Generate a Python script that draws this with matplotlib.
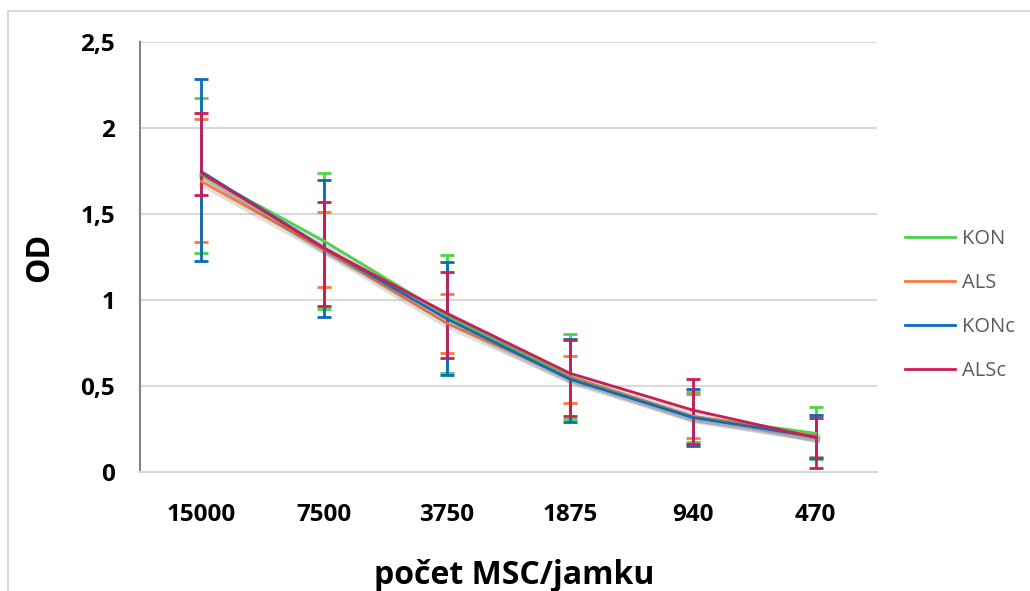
import matplotlib
matplotlib.use("Agg")
import matplotlib.pyplot as plt
import matplotlib.patheffects as pe
from matplotlib.lines import Line2D
import numpy as np

categories = ["15000", "7500", "3750", "1875", "940", "470"]
series_names = ["KON", "ALS", "KONc", "ALSc"]
colors = ["#4fd34a", "#f97a3a", "#0a6cc0", "#cc1d57"]

kon = [1.73, 1.342, 0.91, 0.555, 0.323, 0.225]
als = [1.69, 1.293, 0.864, 0.549, 0.323, 0.21]
konc = [1.746, 1.303, 0.89, 0.54, 0.317, 0.205]
alsc = [1.74, 1.300, 0.922, 0.574, 0.36, 0.20]

kon_hi = [2.177, 1.738, 1.26, 0.80, 0.466, 0.379]
kon_lo = [1.272, 0.95, 0.574, 0.307, 0.176, 0.075]
als_hi = [2.052, 1.512, 1.034, 0.675, 0.451, 0.33]
als_lo = [1.34, 1.077, 0.69, 0.404, 0.199, 0.085]
konc_hi = [2.284, 1.70, 1.222, 0.776, 0.481, 0.332]
konc_lo = [1.224, 0.90, 0.563, 0.292, 0.149, 0.081]
alsc_hi = [2.088, 1.570, 1.164, 0.767, 0.543, 0.315]
alsc_lo = [1.612, 0.965, 0.663, 0.327, 0.162, 0.023]

values = [kon, als, konc, alsc]
highs = [kon_hi, als_hi, konc_hi, alsc_hi]
lows = [kon_lo, als_lo, konc_lo, alsc_lo]

yticks = [0, 0.5, 1, 1.5, 2, 2.5]
ytick_labels = ["0", "0,5", "1", "1,5", "2", "2,5"]

plt.rcParams['font.family'] = ['Open Sans', 'DejaVu Sans']

W, H = 1030, 591
fig = plt.figure(figsize=(W / 100, H / 100), dpi=100)
# outer frame
frame = plt.Rectangle((8 / W, -0.01), 1.1, 1 - 11 / H + 0.01, transform=fig.transFigure,
                      fill=False, edgecolor="#d9d9d9", linewidth=1.5)
fig.patches.append(frame)

ax = fig.add_axes([140 / W, (H - 472) / H, (877 - 140) / W, (472 - 42) / H])
x = np.arange(len(categories))

shadow = [pe.SimpleLineShadow(offset=(1.0, -2.0), shadow_color="#666666", alpha=0.22, linewidth=4.5),
          pe.Normal()]

for name, c, v, hi, lo in zip(series_names, colors, values, highs, lows):
    v = np.array(v)
    err = np.vstack([v - np.array(lo), np.array(hi) - v])
    ax.errorbar(x, v, yerr=err, fmt="none", ecolor=c, elinewidth=2, capsize=5, capthick=2, zorder=3)

for name, c, v in zip(series_names, colors, values):
    ax.plot(x, v, color=c, linewidth=2, zorder=4, path_effects=shadow)

ax.set_xlim(-0.5, len(categories) - 0.5)
ax.set_ylim(0, 2.5)
ax.set_yticks(yticks)
ax.set_yticklabels(ytick_labels, fontsize=17.5, fontweight="bold")
ax.set_xticks(x)
ax.set_xticklabels(categories, fontsize=17.5, fontweight="bold")
ax.tick_params(axis="both", length=0)
ax.tick_params(axis="y", pad=18)
ax.tick_params(axis="x", pad=22)
ax.grid(axis="y", color="#d9d9d9", linewidth=1.5)
ax.set_axisbelow(True)
for s in ["top", "right"]:
    ax.spines[s].set_visible(False)
ax.spines["left"].set_color("#868686")
ax.spines["left"].set_linewidth(1.5)
ax.spines["bottom"].set_color("#d9d9d9")
ax.spines["bottom"].set_linewidth(1.5)

fig.text(40 / W, 1 - 257 / H, "OD", rotation=90, fontsize=23, fontweight="bold",
         ha="center", va="center")
fig.text(514 / W, 1 - 575 / H, "počet MSC/jamku", fontsize=23, fontweight="bold",
         ha="center", va="center")

handles = [Line2D([0], [0], color=c, linewidth=2) for c in colors]
leg = ax.legend(handles, series_names, loc="center left", bbox_to_anchor=(887 / W, 1 - 305 / H),
                bbox_transform=fig.transFigure, frameon=False, fontsize=14.5,
                handlelength=2.5, labelspacing=1.2, handletextpad=0.3)
for t in leg.get_texts():
    t.set_color("#595959")

fig.savefig("out.png", dpi=100)
